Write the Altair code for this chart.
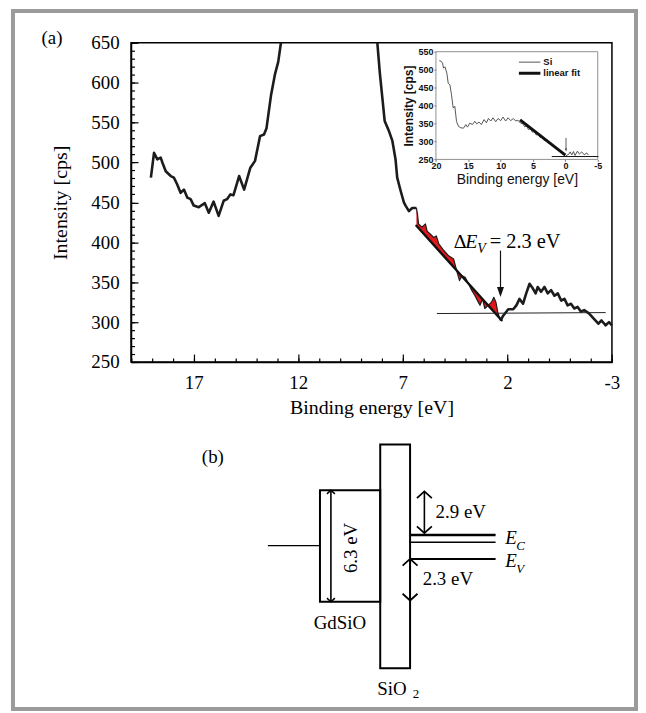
import altair as alt
import pandas as pd

SERIF = "Liberation Serif"
SANS = "Liberation Sans"

# ---------------- panel (a): valence-band spectrum (main) ----------------
low_be = [19.05, 18.9, 18.74, 18.58, 18.5, 18.34, 18.1, 17.95, 17.8, 17.63,
          17.47, 17.31, 17.15, 17.0, 16.76, 16.47, 16.28, 16.05, 15.81, 15.57,
          15.41, 15.25, 15.1, 14.83, 14.59, 14.3, 14.07, 13.83, 13.64, 13.52,
          13.3, 13.12, 12.96, 12.83]
low_int = [481, 512, 504, 506, 500, 489, 483, 481, 473, 462,
           466, 456, 454, 446, 444, 449, 437, 451, 433, 452,
           454, 460, 459, 483, 466, 493, 502, 533, 535, 543,
           585, 610, 626, 650]
high_be = [8.22, 8.1, 7.98, 7.87, 7.66, 7.5, 7.35, 7.27, 7.1, 6.95,
           6.87, 6.71, 6.55, 6.35, 6.3, 6.25, 6.08, 5.92, 5.84, 5.68,
           5.52, 5.4, 5.28, 5.05, 4.81, 4.57, 4.4, 4.29, 4.17, 4.02,
           3.86, 3.71, 3.55, 3.39, 3.31, 3.19, 3.08, 2.92, 2.76, 2.65,
           2.55, 2.45, 2.33, 2.2, 1.96, 1.72, 1.57, 1.42, 1.25, 1.1,
           0.94, 0.78, 0.65, 0.55, 0.39, 0.23, 0.07, -0.09, -0.25, -0.41,
           -0.57, -0.73, -0.88, -1.04, -1.2, -1.36, -1.52, -1.67, -1.9, -2.14,
           -2.35, -2.5, -2.7, -2.86, -3.0]
high_int = [650, 612, 581, 552, 539, 527, 504, 481, 464, 450,
            446, 439, 443, 443, 435, 423, 419, 423, 414, 410,
            406, 408, 398, 390, 383, 379, 362, 352, 358, 356,
            348, 340, 333, 325, 321, 329, 317, 321, 325, 331,
            325, 311, 302, 308, 316, 316, 321, 329, 323, 336,
            348, 342, 336, 344, 338, 344, 336, 340, 333, 336,
            327, 329, 321, 323, 317, 319, 313, 315, 311, 304,
            298, 302, 296, 300, 296]
fit_be = [6.35, 2.28]
fit_int = [420.7, 302.3]
base_be = [5.37, -2.7]
base_int = [310.7, 311.9]
vbo_be = 2.33
vbo_from = 389.6
vbo_tip = 331.4

x_major = [17, 12, 7, 2, -3]
x_minor = list(range(-3, 21))
y_major = list(range(250, 651, 50))
y_minor = list(range(250, 651, 10))

# ---------------- inset: Si reference ----------------
ins_be = [19.48, 19.23, 18.97, 18.82, 18.6, 18.31, 18.1, 17.84, 17.59, 17.33,
          17.08, 16.82, 16.51, 16.15, 15.74, 15.38, 15.13, 14.77, 14.36, 14.0,
          13.7, 13.34, 12.98, 12.57, 12.2, 11.89, 11.53, 11.17, 10.76, 10.4,
          9.99, 9.63, 9.22, 8.86, 8.45, 8.04, 7.68, 7.32, 6.93, 6.6,
          6.3, 6.0, 5.7, 5.4, 5.1, 4.8, 4.5, 4.2, 3.9, 3.6,
          3.3, 3.0, 2.7, 2.4, 2.1, 1.8, 1.5, 1.2, 0.9, 0.6,
          0.3, 0.0, -0.24, -0.5, -0.74, -0.99, -1.25, -1.5, -1.86, -2.17,
          -2.53, -2.89, -3.3, -3.55]
ins_int = [525, 524, 518, 504, 508, 490, 462, 458, 430, 393,
           398, 356, 342, 338, 337, 347, 340, 351, 347, 356,
           349, 354, 347, 361, 352, 364, 357, 366, 355, 364,
           358, 368, 357, 366, 358, 364, 357, 359, 351, 350,
           341, 343, 333, 336, 326, 328, 318, 320, 311, 313,
           303, 304, 296, 297, 288, 289, 281, 280, 273, 272,
           265, 258, 262, 264, 271, 263, 272, 261, 273, 265,
           271, 263, 268, 262]
ins_fit_be = [7.0, 0.0]
ins_fit_int = [360, 262]
ins_base_be = [2.1, -5.1]
ins_base_int = [258, 258]
ins_arrow_be = -0.1
ins_arrow_from = 310
ins_arrow_tip = 272
ins_x_ticks = [20, 15, 10, 5, 0, -5]
ins_y_ticks = [250, 300, 350, 400, 450, 500, 550]
legend_labels = ["Si", "linear fit"]

# ---------------- panel (b): band diagram (energies in eV) ----------------
gdsio_vb, gdsio_cb = 0.0, 6.3
sio2_vb, sio2_cb = -3.77, 8.89
si_levels = [3.77, 3.36, 2.42]
gate_level = 3.17
offsets_lbl = ["6.3 eV", "2.9 eV", "2.3 eV"]
offsets_lo = [0.0, 3.88, 0.07]
offsets_hi = [6.3, 6.24, 2.42]

# ---------------- scales (pixel ranges inside the framed canvas) ----------------
W, H = 626.5, 702
MX = alt.Scale(domain=[-3, 20], range=[602.3, 118.7], nice=False, zero=False)
MY = alt.Scale(domain=[250, 650], range=[353, 32], nice=False, zero=False)
IX = alt.Scale(domain=[-5, 20], range=[588, 425.3], nice=False, zero=False)
IY = alt.Scale(domain=[250, 550], range=[149.3, 41], nice=False, zero=False)
DX = alt.Scale(domain=[-60, 240], range=[196.3, 496.3], nice=False, zero=False)
DY = alt.Scale(domain=[-6, 9], range=[700.7, 434], nice=False, zero=False)


def enc_xy(xs, ys, xf="x", yf="y"):
    return dict(x=alt.X(f"{xf}:Q", scale=xs, axis=None),
                y=alt.Y(f"{yf}:Q", scale=ys, axis=None))


def axis_x(vals, scale, **ax):
    return alt.Chart(pd.DataFrame({"v": vals})).mark_point(opacity=0).encode(
        x=alt.X("v:Q", scale=scale, axis=alt.Axis(grid=False, **ax)))


def axis_y(vals, scale, **ax):
    return alt.Chart(pd.DataFrame({"v": vals})).mark_point(opacity=0).encode(
        y=alt.Y("v:Q", scale=scale, axis=alt.Axis(grid=False, **ax)))


def seg_rule(df, xs, ys, **kw):
    return alt.Chart(df).mark_rule(**kw).encode(
        x=alt.X("x0:Q", scale=xs, axis=None), x2="x1:Q",
        y=alt.Y("y0:Q", scale=ys, axis=None), y2="y1:Q")


def text(df, xs, ys, **kw):
    return alt.Chart(df).mark_text(**kw).encode(text="t:N", **enc_xy(xs, ys))


layers = []

# ---- main axes ----
layers.append(axis_x(x_major, MX, orient="bottom", offset=353 - H, values=x_major, tickSize=0,
                     labelExpr="datum.value", labelFont=SERIF, labelFontSize=19, labelColor="black",
                     labelPadding=12, labelFlush=False, labelOverlap=False,
                     domainColor="black", domainWidth=1.5,
                     title="Binding energy [eV]", titleFont=SERIF, titleFontSize=20,
                     titleFontWeight="normal", titleColor="black", titlePadding=5))
layers.append(axis_x(x_major, MX, orient="top", offset=-353, values=x_major, tickSize=8,
                     tickColor="black", tickWidth=1.2, labels=False, domain=False, title=""))
layers.append(axis_x(x_minor, MX, orient="top", offset=-353, values=x_minor, tickSize=4,
                     tickColor="black", tickWidth=1.2, labels=False, domain=False, title=""))
layers.append(axis_y(y_major, MY, orient="left", offset=-118.7, values=y_major, tickSize=0,
                     labelFont=SERIF, labelFontSize=19, labelColor="black", labelPadding=12,
                     labelFlush=False, labelOverlap=False, domainColor="black", domainWidth=1.5,
                     title="Intensity [cps]", titleFont=SERIF, titleFontSize=20,
                     titleFontWeight="normal", titleColor="black", titlePadding=20))
layers.append(axis_y(y_major, MY, orient="right", offset=118.7 - W, values=y_major, tickSize=7,
                     tickColor="black", tickWidth=1.2, labels=False, domain=False, title=""))
layers.append(axis_y(y_minor, MY, orient="right", offset=118.7 - W, values=y_minor, tickSize=3.5,
                     tickColor="black", tickWidth=1.2, labels=False, domain=False, title=""))

# frame of the main plot
frame = pd.DataFrame({"x0": [-3], "x1": [20], "y0": [250], "y1": [650]})
layers.append(alt.Chart(frame).mark_rect(fillOpacity=0, stroke="black", strokeWidth=1.5).encode(
    x=alt.X("x0:Q", scale=MX, axis=None), x2="x1:Q",
    y=alt.Y("y0:Q", scale=MY, axis=None), y2="y1:Q"))

# red area between spectrum and linear fit
slope = (fit_int[0] - fit_int[1]) / (fit_be[0] - fit_be[1])
fill_rows = [(b, i, fit_int[1] + slope * (b - fit_be[1]))
             for b, i in zip(high_be, high_int) if fit_be[1] <= b <= fit_be[0]]
fill_df = pd.DataFrame(fill_rows, columns=["x", "y", "y2"])
layers.append(alt.Chart(fill_df).mark_area(color="#e3161c", orient="vertical").encode(
    x=alt.X("x:Q", scale=MX, axis=None), y=alt.Y("y:Q", scale=MY, axis=None), y2="y2:Q"))

# spectrum (leaves the frame at the top: drawn in pieces; thinner inside the fit window)
def piece(b, i, g):
    return pd.DataFrame({"x": b, "y": i, "g": g})

hb = pd.Series(high_be)
hi = pd.Series(high_int)
in_fit = (hb <= fit_be[0]) & (hb >= vbo_be)
spec_thick = pd.concat([
    piece(low_be, low_int, "low"),
    piece(hb[hb >= fit_be[0]], hi[hb >= fit_be[0]], "high_a"),
    piece(hb[hb <= vbo_be], hi[hb <= vbo_be], "high_b"),
])
spec_thin = piece(hb[in_fit], hi[in_fit], "fitwin")
layers.append(alt.Chart(spec_thin).mark_line(color="#1c1c1c", strokeWidth=1.2, strokeJoin="round").encode(
    detail="g:N", **enc_xy(MX, MY)))
layers.append(alt.Chart(spec_thick).mark_line(color="#1c1c1c", strokeWidth=2.6, strokeJoin="round").encode(
    detail="g:N", **enc_xy(MX, MY)))

# linear fit, baseline, arrow
layers.append(alt.Chart(pd.DataFrame({"x": fit_be, "y": fit_int})).mark_line(
    color="#111", strokeWidth=2.4, strokeCap="round").encode(**enc_xy(MX, MY)))
layers.append(alt.Chart(pd.DataFrame({"x": base_be, "y": base_int})).mark_line(
    color="#222", strokeWidth=1).encode(**enc_xy(MX, MY)))
layers.append(seg_rule(pd.DataFrame({"x0": [vbo_be], "x1": [vbo_be], "y0": [vbo_from], "y1": [vbo_tip + 6]}),
                       MX, MY, color="#111", strokeWidth=1.2))
layers.append(alt.Chart(pd.DataFrame({"x": [vbo_be], "y": [vbo_tip]})).mark_point(
    shape="M-0.7,-2L0.7,-2L0,0Z", filled=True, color="#111", opacity=1, size=100).encode(**enc_xy(MX, MY)))

# annotation  ΔE_V = 2.3 eV  and (a)
ann = pd.DataFrame({"x": [4.56], "y": [393.3]})
layers.append(text(ann.assign(t="Δ"), MX, MY, font=SERIF, fontSize=20, align="left", baseline="alphabetic", color="black"))
layers.append(text(ann.assign(t="E"), MX, MY, font=SERIF, fontSize=20, fontStyle="italic", align="left",
                   baseline="alphabetic", dx=11.5, color="black"))
layers.append(text(ann.assign(t="V"), MX, MY, font=SERIF, fontSize=14, fontStyle="italic", align="left",
                   baseline="alphabetic", dx=23.5, dy=5, color="black"))
layers.append(text(ann.assign(t="= 2.3 eV"), MX, MY, font=SERIF, fontSize=20.5, align="left",
                   baseline="alphabetic", dx=36, color="black"))
layers.append(text(pd.DataFrame({"x": [23.78], "y": [649], "t": ["(a)"]}), MX, MY, font=SERIF, fontSize=19,
                   align="center", baseline="alphabetic", color="black"))

# ---- inset ----
layers.append(axis_x(ins_x_ticks, IX, orient="bottom", offset=149.3 - H, values=ins_x_ticks, tickSize=2,
                     tickColor="#777", domain=False, labelExpr="datum.value", labelFont=SANS,
                     labelFontSize=9, labelFontWeight="bold", labelColor="#111", labelPadding=0,
                     labelFlush=False, labelOverlap=False,
                     title="Binding energy [eV]", titleFont=SANS, titleFontSize=14,
                     titleFontWeight="normal", titleColor="#111", titlePadding=2))
layers.append(axis_y(ins_y_ticks, IY, orient="left", offset=-425.3, values=ins_y_ticks, tickSize=2,
                     tickColor="#777", domain=False, labelFont=SANS, labelFontSize=9,
                     labelFontWeight="bold", labelColor="#111", labelPadding=1,
                     labelFlush=False, labelOverlap=False,
                     title="Intensity [cps]", titleFont=SANS, titleFontSize=12,
                     titleFontWeight="bold", titleColor="#111", titlePadding=3))
ins_frame = pd.DataFrame({"x0": [-5], "x1": [20], "y0": [250], "y1": [550]})
layers.append(alt.Chart(ins_frame).mark_rect(fillOpacity=0, stroke="#8f8f8f", strokeWidth=1).encode(
    x=alt.X("x0:Q", scale=IX, axis=None), x2="x1:Q",
    y=alt.Y("y0:Q", scale=IY, axis=None), y2="y1:Q"))
layers.append(alt.Chart(pd.DataFrame({"x": ins_be, "y": ins_int})).mark_line(
    color="#444", strokeWidth=0.9).encode(**enc_xy(IX, IY)))
layers.append(alt.Chart(pd.DataFrame({"x": ins_fit_be, "y": ins_fit_int})).mark_line(
    color="#111", strokeWidth=3).encode(**enc_xy(IX, IY)))
layers.append(alt.Chart(pd.DataFrame({"x": ins_base_be, "y": ins_base_int})).mark_line(
    color="#111", strokeWidth=1).encode(**enc_xy(IX, IY)))
layers.append(seg_rule(pd.DataFrame({"x0": [ins_arrow_be], "x1": [ins_arrow_be],
                                     "y0": [ins_arrow_from], "y1": [ins_arrow_tip + 6]}),
                       IX, IY, color="#333", strokeWidth=0.8))
layers.append(alt.Chart(pd.DataFrame({"x": [ins_arrow_be], "y": [ins_arrow_tip]})).mark_point(
    shape="M-0.7,-2L0.7,-2L0,0Z", filled=True, color="#333", opacity=1, size=9).encode(**enc_xy(IX, IY)))
# inset legend (line samples + labels)
leg_y = [521, 490]
leg_lines = pd.DataFrame({"x0": [7.18, 7.18], "x1": [3.86, 3.86], "y0": leg_y,
                          "y1": leg_y, "t": legend_labels})
layers.append(seg_rule(leg_lines.iloc[[0]], IX, IY, color="#555", strokeWidth=1))
layers.append(seg_rule(leg_lines.iloc[[1]], IX, IY, color="#111", strokeWidth=3))
leg_txt = pd.DataFrame({"x": [3.4, 3.4], "y": leg_y, "t": legend_labels})
layers.append(text(leg_txt, IX, IY, font=SANS, fontSize=9.5, fontWeight="bold", align="left",
                   baseline="middle", color="#111"))

# ---- panel (b): band diagram ----
boxes = pd.DataFrame({"x0": [52.4, 113], "x1": [113, 143],
                      "y0": [gdsio_vb, sio2_vb], "y1": [gdsio_cb, sio2_cb]})
layers.append(alt.Chart(boxes).mark_rect(fillOpacity=0, stroke="black", strokeWidth=2).encode(
    x=alt.X("x0:Q", scale=DX, axis=None), x2="x1:Q",
    y=alt.Y("y0:Q", scale=DY, axis=None), y2="y1:Q"))
layers.append(seg_rule(pd.DataFrame({"x0": [0], "x1": [52.4], "y0": [gate_level], "y1": [gate_level]}),
                       DX, DY, color="black", strokeWidth=1.5))
for lvl, w in zip(si_levels, [2.6, 1.6, 2.0]):
    layers.append(seg_rule(pd.DataFrame({"x0": [143], "x1": [229], "y0": [lvl], "y1": [lvl]}),
                           DX, DY, color="black", strokeWidth=w))
arrows = pd.DataFrame({"x0": [63.4, 157.4, 143], "x1": [63.4, 157.4, 143],
                       "y0": offsets_lo, "y1": offsets_hi, "t": offsets_lbl})
layers.append(seg_rule(arrows, DX, DY, color="black", strokeWidth=1.6))
heads_up = pd.DataFrame({"x": [63.4, 157.4, 143], "y": offsets_hi})
heads_dn = pd.DataFrame({"x": [63.4, 157.4, 143], "y": offsets_lo})
for df_, shp in [(heads_up, "M-1,0.9L0,0L1,0.9"), (heads_dn, "M-1,-0.9L0,0L1,-0.9")]:
    layers.append(alt.Chart(df_.iloc[[0]]).mark_point(shape=shp, filled=False, color="black",
                                                       strokeWidth=1.5, opacity=1, size=64).encode(**enc_xy(DX, DY)))
    layers.append(alt.Chart(df_.iloc[1:]).mark_point(shape=shp, filled=False, color="black",
                                                      strokeWidth=1.8, opacity=1, size=225).encode(**enc_xy(DX, DY)))

layers.append(text(pd.DataFrame({"x": [83.7], "y": [3.04], "t": [offsets_lbl[0]]}), DX, DY, font=SERIF,
                   fontSize=19, angle=270, align="center", baseline="middle", color="black"))
layers.append(text(pd.DataFrame({"x": [168.7, 155.7], "y": [4.71, 0.92], "t": offsets_lbl[1:]}), DX, DY,
                   font=SERIF, fontSize=19, align="left", baseline="alphabetic", color="black"))
lvl_lbl = pd.DataFrame({"x": [238.7, 238.7], "y": [3.26, 1.97], "t": ["E", "E"]})
layers.append(text(lvl_lbl, DX, DY, font=SERIF, fontSize=19, fontStyle="italic", align="left",
                   baseline="alphabetic", color="black"))
layers.append(text(lvl_lbl.assign(t=["C", "V"]), DX, DY, font=SERIF, fontSize=13, fontStyle="italic",
                   align="left", baseline="alphabetic", dx=11, dy=6, color="black"))
layers.append(text(pd.DataFrame({"x": [72.4, 124.7, -55.3], "y": [-1.57, -5.27, 7.87],
                                 "t": ["GdSiO", "SiO", "(b)"]}), DX, DY, font=SERIF, fontSize=19,
                   align="center", baseline="alphabetic", color="black"))
layers.append(text(pd.DataFrame({"x": [145.7], "y": [-5.27], "t": ["2"]}), DX, DY, font=SERIF, fontSize=13,
                   align="left", baseline="alphabetic", dy=3, color="black"))

chart = alt.layer(*layers).resolve_scale(
    x="independent", y="independent"
).resolve_axis(
    x="independent", y="independent"
).properties(
    width=W, height=H,
    autosize=alt.AutoSizeParams(type="none"),
    padding={"left": 5, "top": 1, "right": 2, "bottom": 2},
    background="white",
).configure_view(
    stroke="#9b9b9b", strokeWidth=4
).configure_axis(
    labelFont=SERIF, titleFont=SERIF
).configure_text(font=SERIF)

chart.save("out.html", embed_options={"renderer": "svg", "actions": False})
